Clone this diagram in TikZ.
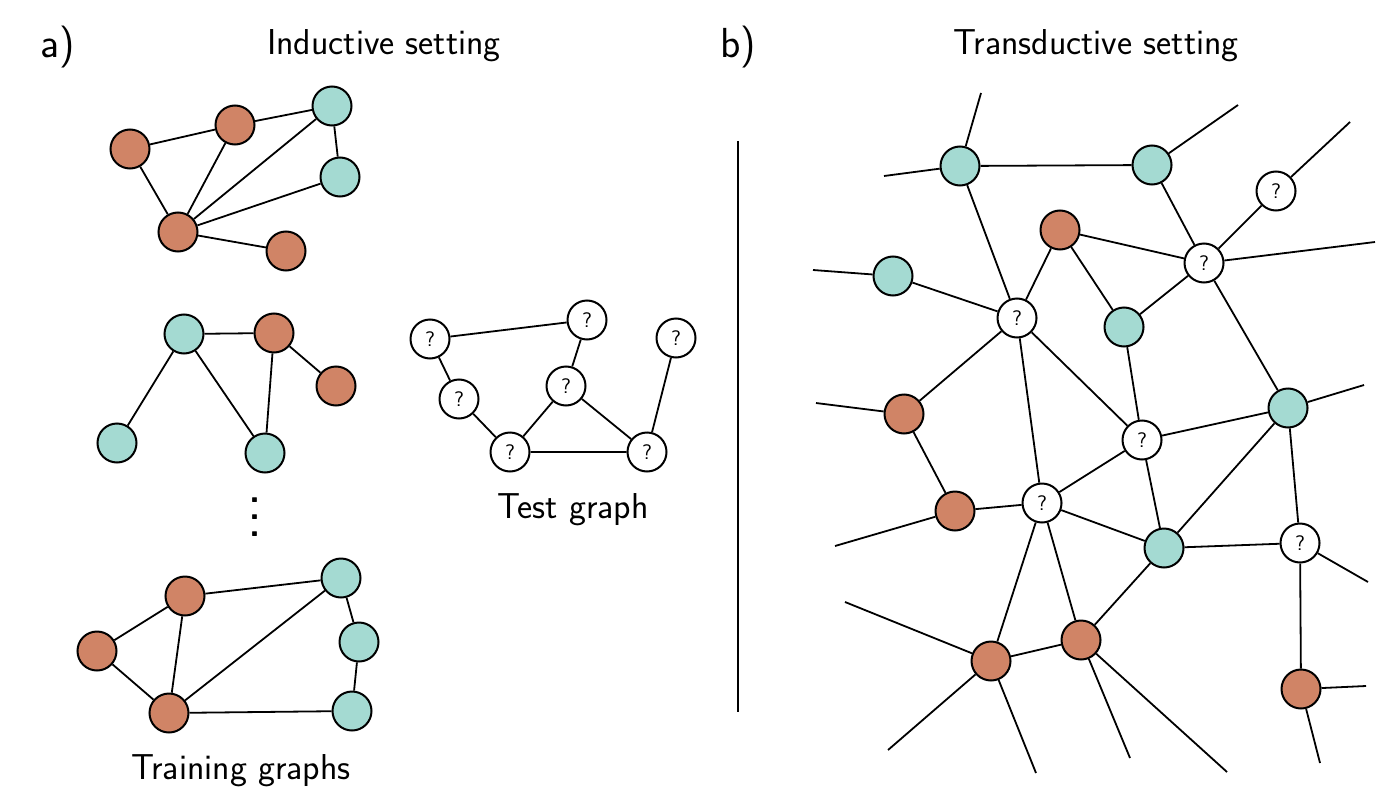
\documentclass[tikz,border=0pt]{standalone}
\usepackage{fontspec}
\begin{document}
\begin{tikzpicture}[x=0.5pt,y=-0.5pt,
  every node/.style={inner sep=0pt},
  nd/.style={circle,draw=black,line width=1pt,minimum size=19.5pt},
  org/.style={nd,fill=orgc},
  tea/.style={nd,fill=teac},
  unk/.style={nd,fill=white,font=\sffamily\fontsize{10.5}{12}\selectfont},
  edge/.style={line width=0.9pt},
  lbl/.style={font=\sffamily\fontsize{18}{21}\selectfont},
  big/.style={font=\sffamily\fontsize{21}{24}\selectfont}]
\definecolor{orgc}{RGB}{208,132,102}
\definecolor{teac}{RGB}{164,218,210}
\useasboundingbox (0,0) rectangle (1384,802);
% labels
\node[big] (la) at (58,47) {a)};
\node[lbl] (ta) at (384,46) {Inductive setting};
\node[big] (lb) at (738,47) {b)};
\node[lbl] (tb) at (1096,46) {Transductive setting};
\node[lbl] (tt) at (573,510) {Test graph};
\node[lbl] (tr) at (241,771) {Training graphs};
\node[align=center,font=\sffamily\bfseries\fontsize{18}{8.5}\selectfont] (dots) at (255,517) {.\\.\\.};
% separator
\coordinate (s1) at (738,141);
\coordinate (s2) at (738,712);
\draw[edge] (s1) -- (s2);
% top graph
\node[org] (A1) at (130,149) {};
\node[org] (A2) at (235,125) {};
\node[tea] (A3) at (332,106) {};
\node[tea] (A4) at (340,177) {};
\node[org] (A5) at (178,232) {};
\node[org] (A6) at (286,251) {};
\draw[edge] (A1)--(A2) (A1)--(A5) (A2)--(A5) (A2)--(A3) (A3)--(A4) (A3)--(A5) (A4)--(A5) (A5)--(A6);
% middle graph
\node[tea] (B1) at (184,334) {};
\node[org] (B2) at (274,333) {};
\node[org] (B3) at (336,386) {};
\node[tea] (B4) at (117,443) {};
\node[tea] (B5) at (265,453) {};
\draw[edge] (B1)--(B2) (B2)--(B3) (B1)--(B4) (B1)--(B5) (B2)--(B5);
% bottom graph
\node[org] (C1) at (185,596) {};
\node[tea] (C2) at (341,578) {};
\node[org] (C3) at (97,651) {};
\node[tea] (C4) at (359,642) {};
\node[org] (C5) at (169,713) {};
\node[tea] (C6) at (352,711) {};
\draw[edge] (C1)--(C2) (C1)--(C3) (C1)--(C5) (C3)--(C5) (C5)--(C2) (C2)--(C4) (C4)--(C6) (C5)--(C6);
% test graph
\node[unk] (T1) at (430,339) {?};
\node[unk] (T2) at (587,320) {?};
\node[unk] (T3) at (676,338) {?};
\node[unk] (T4) at (459,399) {?};
\node[unk] (T5) at (566,386) {?};
\node[unk] (T6) at (510,452) {?};
\node[unk] (T7) at (647,452) {?};
\draw[edge] (T1)--(T2) (T1)--(T4) (T2)--(T5) (T4)--(T6) (T5)--(T6) (T5)--(T7) (T6)--(T7) (T3)--(T7);
% right graph
\node[tea] (R1) at (960,166) {};
\node[tea] (R2) at (1152,165) {};
\node[unk] (R3) at (1276,191) {?};
\node[org] (R4) at (1060,230) {};
\node[unk] (R5) at (1204,263) {?};
\node[tea] (R6) at (893,276) {};
\node[unk] (R7) at (1017,318) {?};
\node[tea] (R8) at (1124,327) {};
\node[org] (R9) at (904,414) {};
\node[tea] (R10) at (1288,408) {};
\node[unk] (R11) at (1142,440) {?};
\node[org] (R12) at (955,511) {};
\node[unk] (R13) at (1042,503) {?};
\node[tea] (R14) at (1164,548) {};
\node[unk] (R15) at (1300,543) {?};
\node[org] (R16) at (991,661) {};
\node[org] (R17) at (1081,640) {};
\node[org] (R18) at (1301,689) {};
\draw[edge] (R1)--(R2) (R1)--(R7) (R2)--(R5) (R3)--(R5) (R4)--(R5) (R4)--(R7) (R4)--(R8)
  (R5)--(R8) (R5)--(R10) (R6)--(R7) (R7)--(R9) (R7)--(R11) (R7)--(R13) (R8)--(R11)
  (R9)--(R12) (R12)--(R13) (R13)--(R11) (R11)--(R10) (R11)--(R14) (R13)--(R14)
  (R10)--(R14) (R10)--(R15) (R14)--(R15) (R13)--(R16) (R13)--(R17) (R16)--(R17)
  (R17)--(R14) (R15)--(R18);
% stubs
\coordinate (e1) at (981,93);
\coordinate (e2) at (884,176);
\coordinate (e3) at (1238,105);
\coordinate (e4) at (1350,122);
\coordinate (e5) at (1375,242);
\coordinate (e6) at (813,270);
\coordinate (e7) at (1364,385);
\coordinate (e8) at (816,403);
\coordinate (e9) at (835,546);
\coordinate (e10) at (845,602);
\coordinate (e11) at (888,750);
\coordinate (e12) at (1036,773);
\coordinate (e13) at (1130,758);
\coordinate (e14) at (1227,772);
\coordinate (e15) at (1368,582);
\coordinate (e16) at (1366,686);
\coordinate (e17) at (1320,763);
\draw[edge] (R1)--(e1) (R1)--(e2) (R2)--(e3) (R3)--(e4) (R5)--(e5) (R6)--(e6)
  (R10)--(e7) (R9)--(e8) (R12)--(e9) (R16)--(e10) (R16)--(e11) (R16)--(e12)
  (R17)--(e13) (R17)--(e14) (R15)--(e15) (R18)--(e16) (R18)--(e17);
\end{tikzpicture}
\end{document}
